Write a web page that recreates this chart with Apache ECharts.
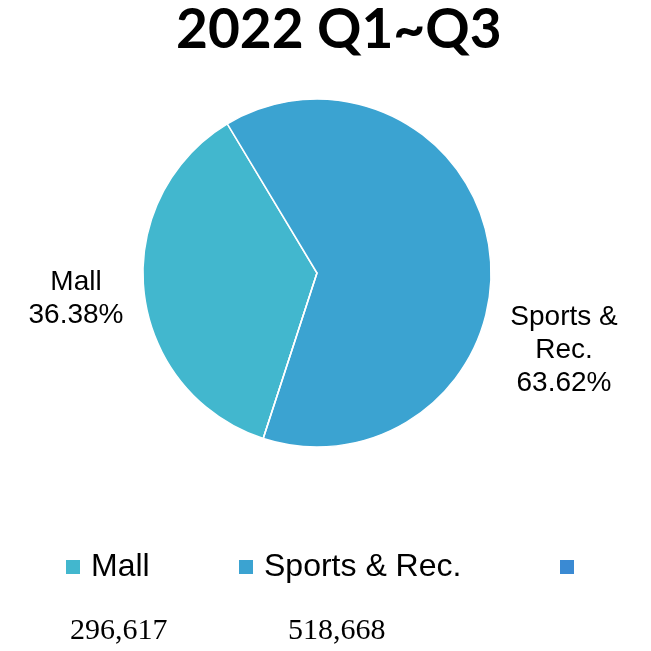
<!DOCTYPE html>
<html>
<head>
<meta charset="utf-8">
<script src="https://cdn.jsdelivr.net/npm/echarts@6/dist/echarts.min.js"></script>
<style>
  html, body { margin: 0; padding: 0; background: #fff; }
  #chart { width: 651px; height: 651px; }
</style>
</head>
<body>
<div id="chart"></div>
<script>
// data
const categories = ['Mall', 'Sports & Rec.', ' '];
const values = [296617, 518668, 0];
const sliceLabels = ['Mall', 'Sports &\nRec.', ''];
const colors = ['#42B7CE', '#3BA3D1', '#3A8AD3'];

const chart = echarts.init(document.getElementById('chart'));

// where each slice label sits (label centre)
const labelSpots = [[76, 299], [564, 350]];
// legend item left edges
const legendLefts = [64, 237, 558];
// value texts under the legend
const valueLefts = [70, 288];

const pieData = categories.map((name, i) => ({
  name: name,
  value: values[i],
  itemStyle: { color: colors[i] },
  label: { show: i < 2 }
}));

const option = {
  animation: false,
  title: {
    text: '2022 Q1~Q3',
    left: 176,
    top: 3,
    padding: 0,
    textStyle: {
      fontFamily: 'Lato',
      fontWeight: 'bold',
      fontSize: 55,
      color: '#000'
    }
  },
  legend: categories.map((name, i) => ({
    data: [name],
    left: legendLefts[i],
    top: 551,
    padding: 0,
    itemWidth: 16,
    itemHeight: 16,
    icon: 'rect',
    selectedMode: false,
    textStyle: {
      fontFamily: 'Liberation Sans',
      fontSize: 32,
      color: '#000',
      padding: [0, 0, 0, 5]
    }
  })),
  series: [
    {
      type: 'pie',
      center: [317, 273],
      radius: 174,
      startAngle: 252,
      clockwise: true,
      silent: true,
      itemStyle: {
        borderColor: '#fff',
        borderWidth: 1.5
      },
      label: {
        show: true,
        position: 'outside',
        alignTo: 'none',
        overflow: 'none',
        formatter: (p) => sliceLabels[p.dataIndex] + '\n' + p.percent.toFixed(2) + '%',
        fontFamily: 'Liberation Sans',
        fontSize: 28,
        lineHeight: 33,
        color: '#000'
      },
      labelLine: { show: false },
      labelLayout: (p) => {
        const s = labelSpots[p.dataIndex];
        if (!s) return {};
        return { x: s[0], y: s[1], align: 'center', verticalAlign: 'middle' };
      },
      data: pieData
    }
  ],
  graphic: values.slice(0, 2).map((v, i) => ({
    type: 'text',
    left: valueLefts[i],
    top: 616,
    style: {
      text: v.toLocaleString('en-US'),
      font: '30px "Liberation Serif"',
      fill: '#000'
    }
  }))
};

chart.setOption(option);
</script>
</body>
</html>
